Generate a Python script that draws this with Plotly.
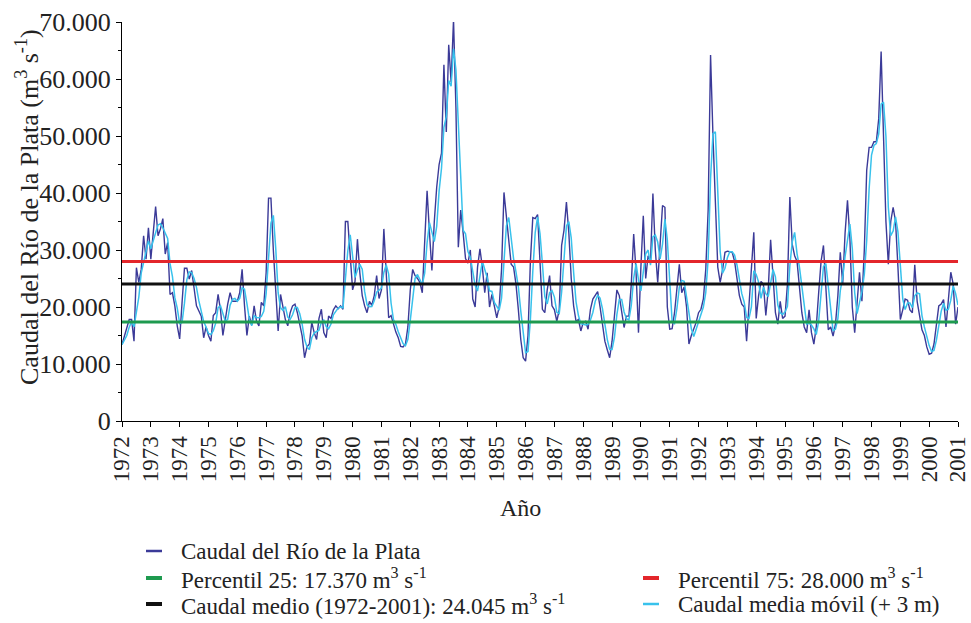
import numpy as np
import pandas as pd
import plotly.graph_objects as go

# Monthly flow of the Río de la Plata (m3/s)
q1972 = [13400, 14900, 16700, 17800, 17800, 14000, 26900, 24300, 26600, 32500, 28400, 33900]
q1973 = [28400, 33100, 37600, 32500, 33700, 35500, 29300, 31300, 22200, 22500, 20200, 16700]
q1974 = [14400, 20800, 26800, 26800, 24900, 26400, 23700, 20200, 19300, 18400, 14600, 16500]
q1975 = [15000, 14000, 18500, 19000, 22200, 19500, 15000, 18000, 20500, 22500, 21000, 21000]
q1976 = [21000, 22500, 26600, 20200, 15000, 18400, 16800, 20200, 17500, 16700, 20800, 20200]
q1977 = [26000, 39100, 39100, 30000, 21600, 15800, 22200, 20200, 17800, 16700, 19000, 20200]
q1978 = [20500, 19000, 17000, 14900, 11100, 13000, 13500, 17300, 15500, 14300, 18000, 19600]
q1979 = [15500, 14600, 18400, 18000, 19500, 20200, 19700, 20200, 19600, 35000, 35000, 28000]
q1980 = [23000, 24500, 31900, 26000, 22000, 20200, 19000, 21000, 20300, 22000, 25500, 21500]
q1981 = [23000, 33700, 25500, 18100, 18500, 16800, 15600, 14600, 13100, 13000, 13500, 16500]
q1982 = [23000, 26600, 25500, 25000, 24300, 22500, 31000, 40400, 33000, 26400, 35000, 41000]
q1983 = [45000, 47000, 62500, 50700, 66000, 59500, 70400, 55000, 30500, 37000, 33000, 28500]
q1984 = [27700, 30000, 21400, 20000, 27000, 30200, 27000, 22500, 26000, 20000, 22200, 20200]
q1985 = [18100, 20000, 26600, 40100, 36000, 31000, 27500, 27000, 24000, 19500, 14300, 11100]
q1986 = [10500, 15000, 28000, 35700, 35500, 36200, 27000, 19600, 19000, 23000, 25500, 20200]
q1987 = [19500, 17500, 19500, 30800, 33500, 38400, 33000, 25000, 20200, 17500, 17800, 15800]
q1988 = [17300, 17500, 16100, 19600, 21400, 22000, 22700, 20000, 16500, 14000, 12500, 11100]
q1989 = [14000, 19000, 23000, 22000, 19000, 16400, 18400, 18400, 24000, 32800, 26000, 15500]
q1990 = [27000, 36000, 25000, 29000, 28000, 39900, 30000, 24300, 31000, 37800, 37500, 20000]
q1991 = [16100, 16200, 19000, 24000, 27500, 22500, 23500, 20000, 13500, 15000, 16000, 17300]
q1992 = [19000, 19600, 21400, 26600, 37000, 64200, 50000, 38000, 27000, 24300, 26500, 29600]
q1993 = [29800, 29700, 29600, 28000, 24500, 22000, 20500, 20000, 14000, 20000, 26000, 33100]
q1994 = [18000, 22000, 24500, 24000, 18500, 23000, 31800, 25000, 19000, 17000, 21000, 18000]
q1995 = [18400, 24000, 39300, 31000, 29000, 28000, 24000, 19000, 16500, 15500, 19500, 15500]
q1996 = [13500, 16500, 22500, 28000, 30800, 24000, 16000, 16500, 14900, 17000, 22000, 29600]
q1997 = [24000, 33000, 38700, 32000, 20000, 15500, 21000, 26100, 21000, 30000, 44000, 48000]
q1998 = [48000, 49000, 49000, 53000, 64800, 50000, 35000, 27500, 35000, 37500, 35000, 27000]
q1999 = [17800, 19500, 21400, 21200, 19500, 19000, 27400, 21000, 18500, 16000, 15000, 13000]
q2000 = [11700, 11900, 13500, 17000, 20200, 20500, 21300, 16500, 21000, 26100, 24000, 17000]
q2001 = [20000]

year_lists = [q1972, q1973, q1974, q1975, q1976, q1977, q1978, q1979, q1980, q1981,
              q1982, q1983, q1984, q1985, q1986, q1987, q1988, q1989, q1990, q1991,
              q1992, q1993, q1994, q1995, q1996, q1997, q1998, q1999, q2000, q2001]

percentile25 = 17370
percentile75 = 28000
caudal_medio = 24045
tick_years = list(range(1972, 2002))

flow = [v for lst in year_lists for v in lst]
x = 1972 + np.arange(len(flow)) / 12.0
moving = pd.Series(flow).rolling(3, min_periods=1).mean()

FONT = "Liberation Serif"
C_DARK = "#3b3a98"
C_LIGHT = "#38c2ec"
C_RED = "#e3262b"
C_GREEN = "#1e9a4f"
C_BLACK = "#111111"

fig = go.Figure()
fig.add_trace(go.Scatter(x=x, y=flow, mode="lines", line=dict(color=C_DARK, width=1.4)))
fig.add_trace(go.Scatter(x=x, y=moving, mode="lines", line=dict(color=C_LIGHT, width=1.5)))
for val, col in [(percentile75, C_RED), (caudal_medio, C_BLACK), (percentile25, C_GREEN)]:
    fig.add_trace(go.Scatter(x=[tick_years[0], tick_years[-1]], y=[val, val], mode="lines",
                             line=dict(color=col, width=3)))

W, H = 971, 623
L, R, T, B = 122, 13, 22, 202
pw, ph = W - L - R, H - T - B

def px(xp):
    return (xp - L) / pw

def py(yp):
    return (H - B - yp) / ph

annotations = [
    dict(text="Año", x=px(520), y=py(508), xref="paper", yref="paper", showarrow=False,
         font=dict(family=FONT, size=24, color="#222222"), xanchor="center", yanchor="middle"),
    dict(text="Caudal del Río de la Plata (m<sup>3</sup> s<sup>-1</sup>)", x=px(27), y=py(207),
         xref="paper", yref="paper", showarrow=False, textangle=-90,
         font=dict(family=FONT, size=26, color="#222222"), xanchor="center", yanchor="middle"),
]

legend_items = [
    (C_DARK, "Caudal del Río de la Plata", 146, 551, 1.5),
    (C_GREEN, "Percentil 25: 17.370 m<sup>3</sup> s<sup>-1</sup>", 146, 578, 3),
    (C_BLACK, "Caudal medio (1972-2001): 24.045 m<sup>3</sup> s<sup>-1</sup>", 146, 604, 3),
    (C_RED, "Percentil 75: 28.000 m<sup>3</sup> s<sup>-1</sup>", 643, 578, 3),
    (C_LIGHT, "Caudal media móvil (+ 3 m)", 643, 604, 1.5),
]
shapes = []
for col, txt, x0, yy, lw in legend_items:
    shapes.append(dict(type="line", xref="paper", yref="paper", x0=px(x0), x1=px(x0 + 16),
                       y0=py(yy), y1=py(yy), line=dict(color=col, width=lw + 1)))
    annotations.append(dict(text=txt, x=px(x0 + 34), y=py(yy), xref="paper", yref="paper",
                            showarrow=False, xanchor="left", yanchor="middle", borderpad=0,
                            font=dict(family=FONT, size=23, color="#222222")))

fig.update_layout(
    width=W, height=H,
    margin=dict(l=L, r=R, t=T, b=B, autoexpand=False),
    showlegend=False,
    plot_bgcolor="white", paper_bgcolor="white",
    separators=",.",
    annotations=annotations,
    shapes=shapes,
    xaxis=dict(range=[1972, 2001], tickmode="array", tickvals=tick_years,
               ticktext=[str(y) for y in tick_years], tickangle=-90, automargin=False,
               ticks="outside", ticklen=5, tickcolor="black", showline=True, linecolor="black",
               linewidth=1, showgrid=False, zeroline=False,
               tickfont=dict(family=FONT, size=23, color="#222222")),
    yaxis=dict(range=[0, 70000], dtick=10000, tickformat=",d", ticks="outside", ticklen=5,
               tickcolor="black", showline=True, linecolor="black", linewidth=1, automargin=False,
               showgrid=False, zeroline=False,
               minor=dict(dtick=5000, ticks="outside", ticklen=3, tickcolor="black"),
               tickfont=dict(family=FONT, size=26, color="#222222")),
)

fig.write_html("out.html", config={"displayModeBar": False},
               post_script="document.body.style.margin='0';document.body.style.padding='0';")
